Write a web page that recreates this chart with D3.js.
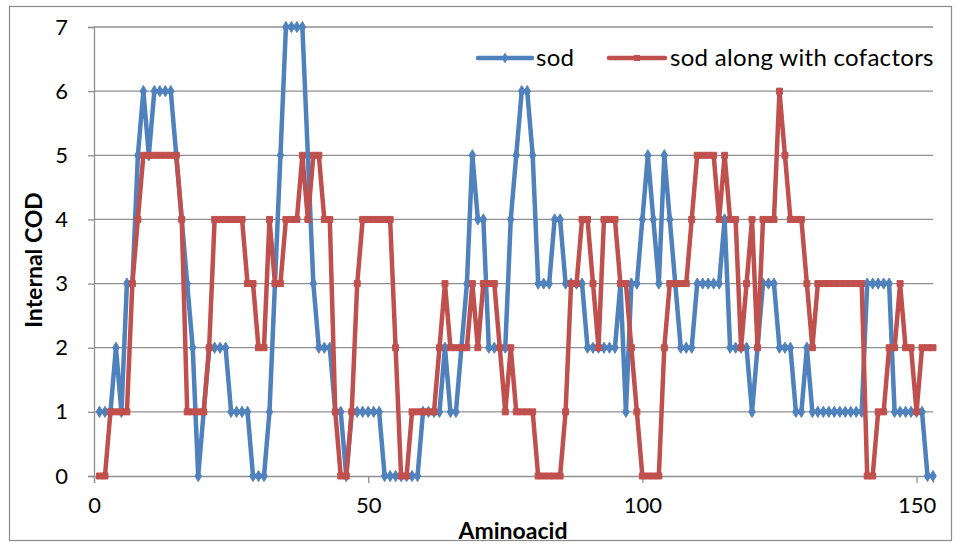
<!DOCTYPE html>
<html>
<head>
<meta charset="utf-8">
<script src="https://cdn.jsdelivr.net/npm/d3@7"></script>
<style>
  html, body { margin: 0; padding: 0; background: #fff; }
  svg { display: block; }
  text { font-family: Lato, "Open Sans", sans-serif; fill: #000; }
</style>
</head>
<body>
<svg id="chart" width="960" height="546"></svg>
<script>
// ---- data ----
const sod = [
  1,1,1,2,1,3,3,5,6,5,
  6,6,6,6,5,4,3,2,0,1,
  2,2,2,2,1,1,1,1,0,0,
  0,1,3,5,7,7,7,7,5,3,
  2,2,2,1,1,0,1,1,1,1,
  1,1,0,0,0,0,0,0,0,1,
  1,1,1,2,1,1,2,3,5,4,
  4,2,2,2,2,4,5,6,6,5,
  3,3,3,4,4,3,3,3,3,2,
  2,2,2,2,2,3,1,3,3,4,
  5,4,3,5,4,3,2,2,2,3,
  3,3,3,3,4,2,2,2,2,1,
  2,3,3,3,2,2,2,1,1,2,
  1,1,1,1,1,1,1,1,1,1,
  3,3,3,3,3,1,1,1,1,1,
  1,0,0
];
const sodCofactors = [
  0,0,1,1,1,1,3,4,5,5,
  5,5,5,5,5,4,1,1,1,1,
  2,4,4,4,4,4,4,3,3,2,
  2,4,3,3,4,4,4,5,4,5,
  5,4,4,1,0,0,1,3,4,4,
  4,4,4,4,2,0,0,1,1,1,
  1,1,2,3,2,2,2,2,3,2,
  3,3,3,2,1,2,1,1,1,1,
  0,0,0,0,0,1,3,3,4,4,
  3,2,4,4,4,3,3,2,1,0,
  0,0,0,2,3,3,3,3,4,5,
  5,5,5,4,5,4,4,2,3,4,
  2,4,4,4,6,5,4,4,4,3,
  2,3,3,3,3,3,3,3,3,3,
  0,0,1,1,2,2,3,2,2,1,
  2,2,2
];
const aminoacid = sod.map((_, i) => i + 1);
const xTicks = [0, 50, 100, 150];
const yTicks = [0, 1, 2, 3, 4, 5, 6, 7];
const seriesNames = ["sod", "sod along with cofactors"];
const xTitle = "Aminoacid";
const yTitle = "Internal COD";

(function () {
// ---- layout ----
const svg = d3.select("#chart");
const pLeft = 94, pRight = 933, pTop = 27, pBottom = 476;
const x = d3.scaleLinear().domain([0, 153]).range([pLeft, pRight]);
const y = d3.scaleLinear().domain([0, 7]).range([pBottom, pTop]);
const blue = "#4F81BD", red = "#C0504D";

// chart frame
svg.append("rect").attr("x", 9.5).attr("y", 6.5).attr("width", 942).attr("height", 534)
  .attr("fill", "#fff").attr("stroke", "#8a8a8a").attr("stroke-width", 1.2);

// gridlines
svg.append("g").selectAll("line").data(yTicks.filter(d => d > 0)).join("line")
  .attr("x1", pLeft).attr("x2", pRight)
  .attr("y1", d => y(d)).attr("y2", d => y(d))
  .attr("stroke", "#8f8f8f").attr("stroke-width", 1.3);

// y axis
const yAxis = svg.append("g").attr("transform", `translate(${pLeft},0)`)
  .call(d3.axisLeft(y).tickValues(yTicks).tickSize(6).tickPadding(20).tickFormat(d3.format("d")));
yAxis.select(".domain").attr("stroke", "#8f8f8f").attr("stroke-width", 1.3);
yAxis.selectAll(".tick line").attr("stroke", "#8f8f8f").attr("stroke-width", 1.3);
yAxis.selectAll(".tick text").style("font-family", "Lato, sans-serif").style("font-size", "22px").attr("fill", "#000");

// x axis
const xAxis = svg.append("g").attr("transform", `translate(0,${pBottom})`)
  .call(d3.axisBottom(x).tickValues(xTicks).tickSize(7).tickPadding(14).tickFormat(d3.format("d")));
xAxis.select(".domain").attr("stroke", "#8f8f8f").attr("stroke-width", 1.3);
xAxis.selectAll(".tick line").attr("stroke", "#8f8f8f").attr("stroke-width", 1.3);
xAxis.selectAll(".tick text").style("font-family", "Lato, sans-serif").style("font-size", "22px").attr("fill", "#000");

// axis titles
svg.append("text").attr("x", 513).attr("y", 539).attr("text-anchor", "middle")
  .style("font-size", "23px").style("font-weight", "bold").text(xTitle);
svg.append("text").attr("transform", "translate(42,260) rotate(-90)").attr("text-anchor", "middle")
  .style("font-size", "23px").style("font-weight", "bold").text(yTitle);

// series
const line = d3.line().x((d, i) => x(aminoacid[i])).y(d => y(d));
function drawSeries(values, color, shape) {
  const g = svg.append("g");
  g.append("path").datum(values).attr("d", line)
    .attr("fill", "none").attr("stroke", color).attr("stroke-width", 4.5)
    .attr("stroke-linejoin", "round").attr("stroke-linecap", "round");
  g.selectAll("path.m").data(values).join("path").attr("class", "m")
    .attr("transform", (d, i) => `translate(${x(aminoacid[i])},${y(d)})`)
    .attr("d", d3.symbol().type(shape).size(36))
    .attr("fill", color).attr("stroke", color).attr("stroke-width", 1);
}
drawSeries(sod, blue, d3.symbolDiamond);
drawSeries(sodCofactors, red, d3.symbolSquare);

// legend
const legend = [
  { name: seriesNames[0], color: blue, x1: 478, x2: 532, tx: 536, shape: d3.symbolDiamond },
  { name: seriesNames[1], color: red, x1: 609, x2: 665, tx: 670, shape: d3.symbolSquare }
];
const ly = 58;
legend.forEach(l => {
  svg.append("line").attr("x1", l.x1).attr("x2", l.x2).attr("y1", ly).attr("y2", ly)
    .attr("stroke", l.color).attr("stroke-width", 4.5).attr("stroke-linecap", "round");
  svg.append("path").attr("transform", `translate(${(l.x1 + l.x2) / 2},${ly})`)
    .attr("d", d3.symbol().type(l.shape).size(36)).attr("fill", l.color);
  svg.append("text").attr("x", l.tx).attr("y", ly + 8).style("font-size", "24px")
    .style("letter-spacing", "0.3px").text(l.name);
});
})();
</script>
</body>
</html>
